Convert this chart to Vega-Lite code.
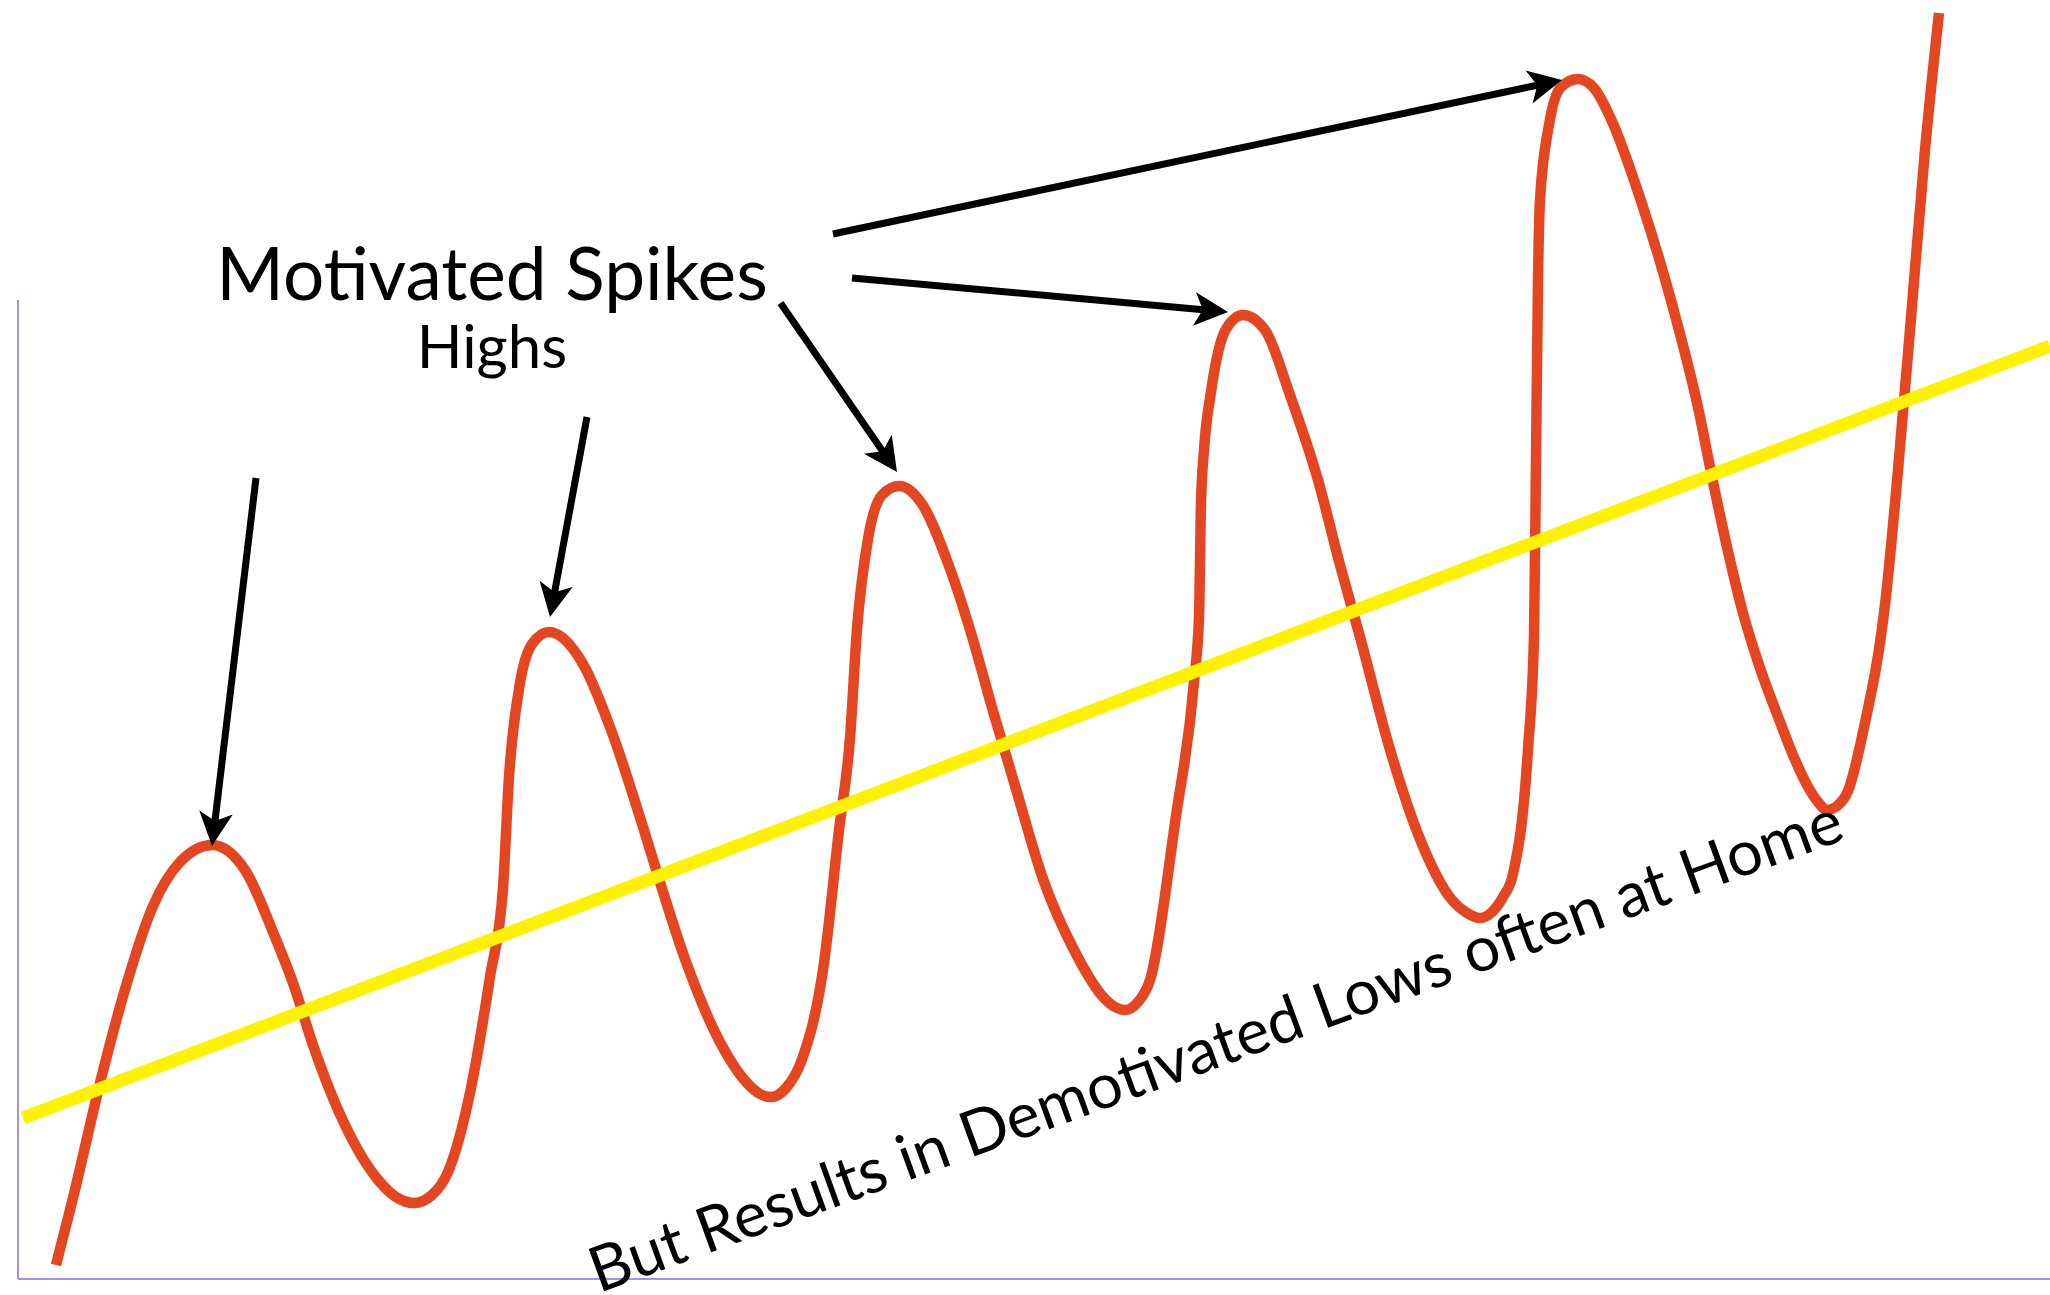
{
  "$schema": "https://vega.github.io/schema/vega-lite/v6.json",
  "width": 2050,
  "height": 1295,
  "padding": 0,
  "autosize": {"type": "none"},
  "background": "white",
  "config": {"view": {"stroke": null}},
  "datasets": {
    "curve": [
      {"i": 0, "x": 56, "y": 1265},
      {"i": 1, "x": 73, "y": 1198},
      {"i": 2, "x": 101, "y": 1079},
      {"i": 3, "x": 126, "y": 986},
      {"i": 4, "x": 153, "y": 906},
      {"i": 5, "x": 180, "y": 862},
      {"i": 6, "x": 212, "y": 845},
      {"i": 7, "x": 245, "y": 870},
      {"i": 8, "x": 275, "y": 937},
      {"i": 9, "x": 293, "y": 983},
      {"i": 10, "x": 314, "y": 1048},
      {"i": 11, "x": 344, "y": 1123},
      {"i": 12, "x": 379, "y": 1181},
      {"i": 13, "x": 396, "y": 1197},
      {"i": 14, "x": 414, "y": 1203},
      {"i": 15, "x": 432, "y": 1195},
      {"i": 16, "x": 448, "y": 1172},
      {"i": 17, "x": 471, "y": 1088},
      {"i": 18, "x": 490, "y": 977},
      {"i": 19, "x": 503, "y": 888},
      {"i": 20, "x": 509, "y": 777},
      {"i": 21, "x": 519, "y": 689},
      {"i": 22, "x": 532, "y": 644},
      {"i": 23, "x": 549, "y": 632},
      {"i": 24, "x": 583, "y": 664},
      {"i": 25, "x": 610, "y": 727},
      {"i": 26, "x": 643, "y": 827},
      {"i": 27, "x": 659, "y": 879},
      {"i": 28, "x": 685, "y": 959},
      {"i": 29, "x": 721, "y": 1044},
      {"i": 30, "x": 748, "y": 1084},
      {"i": 31, "x": 760, "y": 1094},
      {"i": 32, "x": 771, "y": 1097},
      {"i": 33, "x": 786, "y": 1088},
      {"i": 34, "x": 801, "y": 1062},
      {"i": 35, "x": 824, "y": 963},
      {"i": 36, "x": 839, "y": 830},
      {"i": 37, "x": 850, "y": 738},
      {"i": 38, "x": 857, "y": 629},
      {"i": 39, "x": 868, "y": 539},
      {"i": 40, "x": 882, "y": 495},
      {"i": 41, "x": 899, "y": 486},
      {"i": 42, "x": 922, "y": 504},
      {"i": 43, "x": 949, "y": 566},
      {"i": 44, "x": 971, "y": 633},
      {"i": 45, "x": 993, "y": 711},
      {"i": 46, "x": 1016, "y": 789},
      {"i": 47, "x": 1043, "y": 879},
      {"i": 48, "x": 1074, "y": 950},
      {"i": 49, "x": 1105, "y": 999},
      {"i": 50, "x": 1115, "y": 1007},
      {"i": 51, "x": 1125, "y": 1010},
      {"i": 52, "x": 1138, "y": 1002},
      {"i": 53, "x": 1150, "y": 980},
      {"i": 54, "x": 1176, "y": 816},
      {"i": 55, "x": 1194, "y": 682},
      {"i": 56, "x": 1199, "y": 617},
      {"i": 57, "x": 1201, "y": 503},
      {"i": 58, "x": 1204, "y": 450},
      {"i": 59, "x": 1211, "y": 392},
      {"i": 60, "x": 1226, "y": 329},
      {"i": 61, "x": 1243, "y": 315},
      {"i": 62, "x": 1265, "y": 330},
      {"i": 63, "x": 1290, "y": 395},
      {"i": 64, "x": 1318, "y": 480},
      {"i": 65, "x": 1340, "y": 565},
      {"i": 66, "x": 1360, "y": 637},
      {"i": 67, "x": 1391, "y": 753},
      {"i": 68, "x": 1418, "y": 834},
      {"i": 69, "x": 1452, "y": 900},
      {"i": 70, "x": 1467, "y": 913},
      {"i": 71, "x": 1480, "y": 918},
      {"i": 72, "x": 1492, "y": 912},
      {"i": 73, "x": 1503, "y": 897},
      {"i": 74, "x": 1513, "y": 874},
      {"i": 75, "x": 1528, "y": 749},
      {"i": 76, "x": 1534, "y": 637},
      {"i": 77, "x": 1536, "y": 459},
      {"i": 78, "x": 1538, "y": 280},
      {"i": 79, "x": 1540, "y": 200},
      {"i": 80, "x": 1549, "y": 125},
      {"i": 81, "x": 1561, "y": 87},
      {"i": 82, "x": 1578, "y": 79},
      {"i": 83, "x": 1594, "y": 88},
      {"i": 84, "x": 1611, "y": 119},
      {"i": 85, "x": 1641, "y": 201},
      {"i": 86, "x": 1672, "y": 304},
      {"i": 87, "x": 1699, "y": 412},
      {"i": 88, "x": 1712, "y": 477},
      {"i": 89, "x": 1727, "y": 547},
      {"i": 90, "x": 1743, "y": 613},
      {"i": 91, "x": 1760, "y": 668},
      {"i": 92, "x": 1777, "y": 714},
      {"i": 93, "x": 1793, "y": 755},
      {"i": 94, "x": 1807, "y": 785},
      {"i": 95, "x": 1818, "y": 802},
      {"i": 96, "x": 1827, "y": 810},
      {"i": 97, "x": 1837, "y": 806},
      {"i": 98, "x": 1848, "y": 791},
      {"i": 99, "x": 1863, "y": 732},
      {"i": 100, "x": 1886, "y": 596},
      {"i": 101, "x": 1898, "y": 470},
      {"i": 102, "x": 1910, "y": 330},
      {"i": 103, "x": 1925, "y": 150},
      {"i": 104, "x": 1939, "y": 13}
    ],
    "trend": [
      {"x": 23, "y": 1118},
      {"x": 2050, "y": 346}
    ],
    "frame": [
      {"x": 18, "y": 300, "x2": 18, "y2": 1279},
      {"x": 18, "y": 1279, "x2": 2050, "y2": 1279}
    ],
    "arrows": [
      {"id": 1, "x": 256, "y": 478, "x2": 214.6, "y2": 824, "tx": 212, "ty": 846, "dir": 186.8},
      {"id": 2, "x": 587, "y": 417, "x2": 554, "y2": 595.4, "tx": 550, "ty": 617, "dir": 190.5},
      {"id": 3, "x": 780.5, "y": 303, "x2": 884.5, "y2": 454, "tx": 897, "ty": 472, "dir": 145.4},
      {"id": 4, "x": 852, "y": 278, "x2": 1206, "y2": 310, "tx": 1228, "ty": 312, "dir": 95.2},
      {"id": 5, "x": 833, "y": 234, "x2": 1540.5, "y2": 84.5, "tx": 1562, "ty": 80, "dir": 78.1}
    ],
    "titles": [
      {"t": "Motivated Spikes", "x": 492, "y": 300}
    ],
    "subtitles": [
      {"t": "Highs", "x": 492, "y": 368}
    ],
    "note": [
      {"t": "But Results in Demotivated Lows often at Home", "x": 1223, "y": 1066}
    ]
  },
  "layer": [
    {
      "data": {"name": "frame"},
      "mark": {"type": "rule", "color": "#a88cf7", "strokeWidth": 2},
      "encoding": {
        "x": {"field": "x", "type": "quantitative", "scale": {"domain": [0, 2050], "nice": false, "zero": false}, "axis": null},
        "y": {"field": "y", "type": "quantitative", "scale": {"domain": [0, 1295], "nice": false, "zero": false, "reverse": true}, "axis": null},
        "x2": {"field": "x2"},
        "y2": {"field": "y2"}
      }
    },
    {
      "data": {"name": "curve"},
      "mark": {"type": "line", "color": "#e44621", "strokeWidth": 10.5, "interpolate": "monotone", "strokeCap": "butt", "strokeJoin": "round", "clip": false},
      "encoding": {
        "x": {"field": "x", "type": "quantitative", "scale": {"domain": [0, 2050], "nice": false, "zero": false}, "axis": null},
        "y": {"field": "y", "type": "quantitative", "scale": {"domain": [0, 1295], "nice": false, "zero": false, "reverse": true}, "axis": null},
        "order": {"field": "i", "type": "quantitative"}
      }
    },
    {
      "data": {"name": "trend"},
      "mark": {"type": "line", "color": "#fff200", "strokeWidth": 13, "strokeCap": "butt"},
      "encoding": {
        "x": {"field": "x", "type": "quantitative", "scale": {"domain": [0, 2050], "nice": false, "zero": false}, "axis": null},
        "y": {"field": "y", "type": "quantitative", "scale": {"domain": [0, 1295], "nice": false, "zero": false, "reverse": true}, "axis": null}
      }
    },
    {
      "data": {"name": "arrows"},
      "mark": {"type": "rule", "color": "black", "strokeWidth": 7, "strokeCap": "butt"},
      "encoding": {
        "x": {"field": "x", "type": "quantitative", "scale": {"domain": [0, 2050], "nice": false, "zero": false}, "axis": null},
        "y": {"field": "y", "type": "quantitative", "scale": {"domain": [0, 1295], "nice": false, "zero": false, "reverse": true}, "axis": null},
        "x2": {"field": "x2"},
        "y2": {"field": "y2"}
      }
    },
    {
      "data": {"name": "arrows"},
      "mark": {"type": "point", "shape": "M0,0L0.9,1.8L0,1.35L-0.9,1.8Z", "filled": true, "color": "black", "opacity": 1, "size": 1400, "strokeWidth": 0},
      "encoding": {
        "x": {"field": "tx", "type": "quantitative", "scale": {"domain": [0, 2050], "nice": false, "zero": false}, "axis": null},
        "y": {"field": "ty", "type": "quantitative", "scale": {"domain": [0, 1295], "nice": false, "zero": false, "reverse": true}, "axis": null},
        "angle": {"field": "dir", "type": "quantitative", "scale": null}
      }
    },
    {
      "data": {"name": "titles"},
      "mark": {"type": "text", "font": "Lato", "fontSize": 73, "color": "black", "align": "center", "baseline": "alphabetic"},
      "encoding": {
        "x": {"field": "x", "type": "quantitative", "scale": {"domain": [0, 2050], "nice": false, "zero": false}, "axis": null},
        "y": {"field": "y", "type": "quantitative", "scale": {"domain": [0, 1295], "nice": false, "zero": false, "reverse": true}, "axis": null},
        "text": {"field": "t"}
      }
    },
    {
      "data": {"name": "subtitles"},
      "mark": {"type": "text", "font": "Lato", "fontSize": 60, "color": "black", "align": "center", "baseline": "alphabetic"},
      "encoding": {
        "x": {"field": "x", "type": "quantitative", "scale": {"domain": [0, 2050], "nice": false, "zero": false}, "axis": null},
        "y": {"field": "y", "type": "quantitative", "scale": {"domain": [0, 1295], "nice": false, "zero": false, "reverse": true}, "axis": null},
        "text": {"field": "t"}
      }
    },
    {
      "data": {"name": "note"},
      "mark": {"type": "text", "font": "Lato", "fontSize": 63, "color": "black", "align": "center", "baseline": "alphabetic", "angle": 340},
      "encoding": {
        "x": {"field": "x", "type": "quantitative", "scale": {"domain": [0, 2050], "nice": false, "zero": false}, "axis": null},
        "y": {"field": "y", "type": "quantitative", "scale": {"domain": [0, 1295], "nice": false, "zero": false, "reverse": true}, "axis": null},
        "text": {"field": "t"}
      }
    }
  ]
}
